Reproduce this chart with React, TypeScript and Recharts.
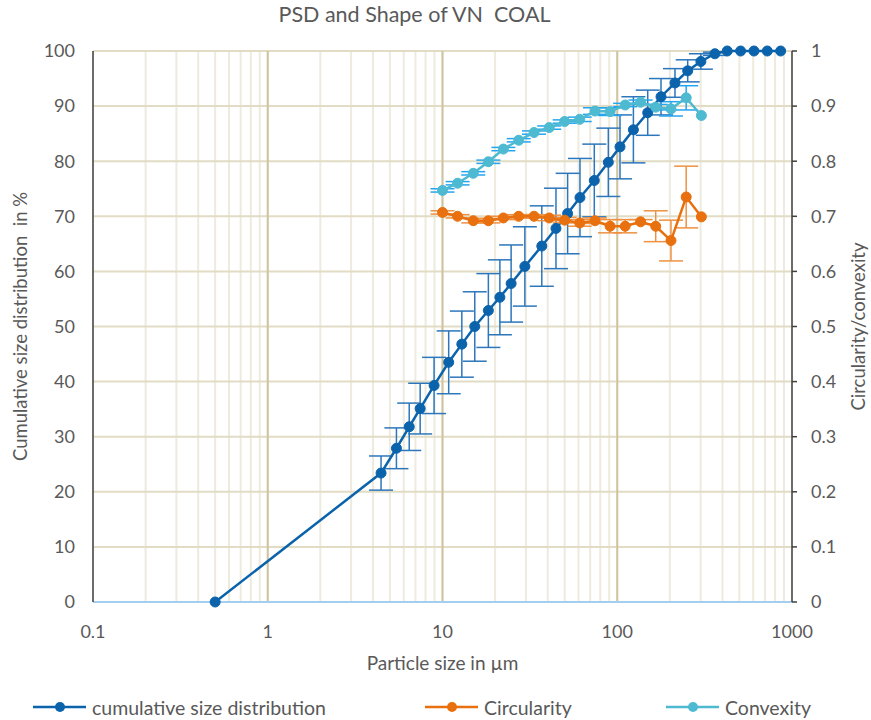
import React from 'react';
import {
  ComposedChart,
  Line,
  XAxis,
  YAxis,
  CartesianGrid,
  ErrorBar,
  ReferenceLine,
  Legend,
} from 'recharts';

const FONT = 'Lato, "Open Sans", sans-serif';
const TEXT = '#595959';

// Cumulative particle size distribution (size class in µm, % passing, ± spread)
const psdSizes = [0.5, 4.45, 5.45, 6.45, 7.45, 8.95, 10.85, 12.9, 15.3, 18.3, 21.3, 24.7, 29.6, 37.0, 44.6, 52.0, 61.2, 73.9, 88.9, 103.7, 123.7, 149.4, 178, 214, 253, 301, 362, 426, 508, 606, 722, 861];
const psdCumulative = [0, 23.4, 27.9, 31.8, 35.1, 39.3, 43.5, 46.8, 50.0, 52.9, 55.3, 57.8, 60.9, 64.6, 67.8, 70.5, 73.4, 76.5, 79.8, 82.6, 85.7, 88.8, 91.7, 94.2, 96.4, 98.1, 99.5, 100, 100, 100, 100, 100];
const psdSpread = [0, 3.1, 3.7, 4.3, 4.6, 5.1, 5.7, 6.0, 6.3, 6.7, 6.8, 7.0, 7.2, 7.3, 7.3, 7.3, 7.1, 6.6, 6.2, 5.8, 6.0, 4.1, 3.3, 2.6, 2.0, 1.4, 0.3, 0, 0, 0, 0, 0];

// Shape descriptors per size class (µm)
const shapeSizes = [10.0, 12.2, 15.0, 18.3, 22.3, 27.3, 33.4, 40.8, 50.0, 61.0, 74.6, 91.0, 111, 136, 166, 203, 248, 303];
const circularity = [0.707, 0.700, 0.692, 0.692, 0.697, 0.700, 0.700, 0.697, 0.693, 0.688, 0.692, 0.682, 0.682, 0.690, 0.682, 0.656, 0.735, 0.699];
const circularitySpread = [0.003, 0.003, 0.004, 0.004, 0.003, 0.003, 0.003, 0.005, 0.005, 0.006, 0.005, 0.012, 0.012, 0.004, 0.028, 0.037, 0.056, 0];
const convexity = [0.747, 0.760, 0.778, 0.799, 0.822, 0.838, 0.852, 0.861, 0.872, 0.876, 0.891, 0.890, 0.902, 0.907, 0.898, 0.895, 0.915, 0.883];
const convexitySpread = [0.003, 0.003, 0.003, 0.003, 0.003, 0.003, 0.003, 0.003, 0.003, 0.004, 0.006, 0.007, 0.003, 0.004, 0.005, 0.013, 0.022, 0];

// Axis ticks
const decades = [0.1, 1, 10, 100];
const decadeSteps = [1, 2, 3, 4, 5, 6, 7, 8, 9];
const xMax = 1000;
const innerDecades = [1, 10, 100];
const leftTicks = [0, 10, 20, 30, 40, 50, 60, 70, 80, 90, 100];
const rightTicks = [0, 0.1, 0.2, 0.3, 0.4, 0.5, 0.6, 0.7, 0.8, 0.9, 1];

const xTicks = [...decades.flatMap((d) => decadeSteps.map((s) => +(d * s).toPrecision(6))), xMax];
const isDecade = (v: number) => Math.abs(Math.log10(v) - Math.round(Math.log10(v))) < 1e-9;

const psdData = psdSizes.map((size, i) => ({ size, value: psdCumulative[i], err: psdSpread[i] }));
const shapeData = shapeSizes.map((size, i) => ({
  size,
  circ: circularity[i],
  circErr: circularitySpread[i],
  conv: convexity[i],
  convErr: convexitySpread[i],
}));

const series = [
  { name: 'cumulative size distribution', color: '#0B63AC', x0: 33 },
  { name: 'Circularity', color: '#E8700F', x0: 425 },
  { name: 'Convexity', color: '#4DBAD1', x0: 666 },
];

const LegendContent = () => (
  <svg width={871} height={48} style={{ display: 'block' }}>
    {series.map((s) => (
      <g key={s.name}>
        <line x1={s.x0} x2={s.x0 + 53} y1={35} y2={35} stroke={s.color} strokeWidth={2.5} />
        <circle cx={s.x0 + 27} cy={35} r={5} fill={s.color} />
        <text x={s.x0 + 59} y={35} dominantBaseline="central" fontFamily={FONT} fontSize={19.5} fill={TEXT}>
          {s.name}
        </text>
      </g>
    ))}
  </svg>
);

const dotStyle = (c: string) => ({ r: 5, fill: c, stroke: c, strokeWidth: 1 });

const rotatedLabel = (text: string, dx: number) => (p: any) => {
  const cx = p.viewBox.x + dx;
  const cy = p.viewBox.y + p.viewBox.height / 2;
  return (
    <text
      x={cx}
      y={cy}
      transform={`rotate(-90 ${cx} ${cy})`}
      textAnchor="middle"
      dominantBaseline="central"
      fontFamily={FONT}
      fontSize={18.5}
      fill={TEXT}
      style={{ whiteSpace: 'pre' }}
    >
      {text}
    </text>
  );
};

export default function App() {
  return (
    <div style={{ position: 'absolute', left: 0, top: 0, width: 871, height: 720, background: '#fff' }}>
      <div
        style={{
          position: 'absolute',
          left: 0,
          top: 0,
          width: 829,
          height: 28,
          lineHeight: '28px',
          textAlign: 'center',
          fontFamily: FONT,
          fontSize: 21.5,
          color: TEXT,
          whiteSpace: 'pre',
        }}
      >
        PSD and Shape of VN  COAL
      </div>
      <ComposedChart width={871} height={720} margin={{ top: 51, right: 0, bottom: 0, left: 0 }}>
        <CartesianGrid horizontal={false} stroke="#EEEADD" strokeWidth={2} />
        <CartesianGrid vertical={false} stroke="#E2DCC5" strokeWidth={2} />
        {innerDecades.map((d) => (
          <ReferenceLine key={d} x={d} stroke="#CEC49E" strokeWidth={2} />
        ))}
        <XAxis
          dataKey="size"
          type="number"
          scale="log"
          domain={[0.1, 1000]}
          ticks={xTicks}
          interval={0}
          allowDataOverflow
          tickFormatter={(v: number) => (isDecade(v) ? String(v) : '')}
          tick={{ fill: TEXT, fontSize: 18, fontFamily: FONT }}
          tickLine={false}
          tickSize={0}
          tickMargin={23}
          axisLine={{ stroke: '#A4CEF0', strokeWidth: 2 }}
          height={70}
          label={{
            value: 'Particle size in µm',
            content: (p: any) => (
              <text
                x={p.viewBox.x + p.viewBox.width / 2}
                y={p.viewBox.y + 60}
                textAnchor="middle"
                dominantBaseline="central"
                fontFamily={FONT}
                fontSize={19}
                fill={TEXT}
              >
                Particle size in µm
              </text>
            ),
          }}
        />
        <YAxis
          type="number"
          domain={[0, 100]}
          ticks={leftTicks}
          interval={0}
          width={93}
          tick={{ fill: TEXT, fontSize: 18, fontFamily: FONT }}
          tickLine={false}
          tickSize={0}
          tickMargin={18}
          axisLine={{ stroke: '#404040', strokeWidth: 1.5 }}
          label={{ value: 'Cumulative size distribution  in %', content: rotatedLabel('Cumulative size distribution  in %', 20) }}
        />
        <YAxis
          yAxisId="right"
          orientation="right"
          type="number"
          domain={[0, 1]}
          ticks={rightTicks}
          interval={0}
          width={79}
          tickFormatter={(v: number) => String(+v.toFixed(1))}
          tick={{ fill: TEXT, fontSize: 18, fontFamily: FONT }}
          tickLine={{ stroke: '#404040', strokeWidth: 1.5 }}
          tickSize={5}
          tickMargin={14}
          axisLine={{ stroke: '#404040', strokeWidth: 1.5 }}
          label={{ value: 'Circularity/convexity', content: rotatedLabel('Circularity/convexity', 66) }}
        />
        <Line
          data={psdData}
          dataKey="value"
          name="cumulative size distribution"
          type="linear"
          stroke="#0B63AC"
          strokeWidth={2.5}
          dot={dotStyle('#0B63AC')}
          activeDot={false}
          isAnimationActive={false}
        >
          <ErrorBar dataKey="err" direction="y" width={12} stroke="#2C76BB" strokeWidth={1.5} isAnimationActive={false} />
        </Line>
        <Line
          data={shapeData}
          yAxisId="right"
          dataKey="circ"
          name="Circularity"
          type="linear"
          stroke="#E8700F"
          strokeWidth={2.5}
          dot={dotStyle('#E8700F')}
          activeDot={false}
          isAnimationActive={false}
        >
          <ErrorBar dataKey="circErr" direction="y" width={12} stroke="#EE9142" strokeWidth={1.5} isAnimationActive={false} />
        </Line>
        <Line
          data={shapeData}
          yAxisId="right"
          dataKey="conv"
          name="Convexity"
          type="linear"
          stroke="#4DBAD1"
          strokeWidth={2.5}
          dot={dotStyle('#4DBAD1')}
          activeDot={false}
          isAnimationActive={false}
        >
          <ErrorBar dataKey="convErr" direction="y" width={12} stroke="#24A5F0" strokeWidth={1.5} isAnimationActive={false} />
        </Line>
        <Legend
          verticalAlign="bottom"
          content={() => <LegendContent />}
          wrapperStyle={{ left: 0, width: 871, height: 48, bottom: 0 }}
        />
      </ComposedChart>
    </div>
  );
}
